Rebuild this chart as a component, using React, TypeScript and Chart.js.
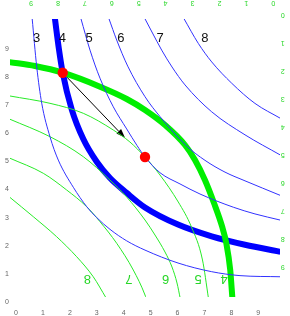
import React, { useEffect, useRef } from 'react';
import { Chart, registerables } from 'chart.js';

Chart.register(...registerables);

// Tick values of consumer A (bottom/left) and consumer B (top/right, reversed)
const aTicks = [0, 1, 2, 3, 4, 5, 6, 7, 8, 9];
const bTicks = [0, 1, 2, 3, 4, 5, 6, 7, 8, 9];

// Indifference-curve labels
const blueLevels = ['3', '4', '5', '6', '7', '8'];
const blueLabelX = [0.77, 1.72, 2.72, 3.9, 5.35, 7.02];
const blueLabelY = 9.4;
const greenLevels = ['8', '7', '6', '5', '4'];
const greenLabelX = [6.91, 5.36, 4.0, 2.79, 1.83];
const greenLabelY = 9.4;

// Consumer A (blue) indifference curves, in A's coordinates [x, y]
const blue3 = [[0.6, 10.1], [0.769, 8.38], [0.955, 7.08], [1.263, 5.88], [1.571, 5.05], [2.129, 4.08], [2.626, 3.39], [2.998, 3.0], [3.492, 2.58], [4.112, 2.17], [4.792, 1.84], [6.018, 1.38], [7.27, 1.07], [8.321, 0.93], [9.82, 0.89]];
const blue4 = [[1.445, 10.1], [1.597, 8.99], [1.735, 8.164], [2.069, 6.86], [2.5, 5.8], [2.998, 4.99], [3.492, 4.41], [4.112, 3.88], [4.792, 3.36], [6.018, 2.75], [7.27, 2.33], [8.507, 2.03], [9.82, 1.78]];
const blue5 = [[2.41, 10.1], [2.749, 8.97], [3.12, 7.97], [3.614, 6.95], [4.112, 6.16], [4.495, 5.57], [4.792, 5.16], [5.349, 4.6], [6.092, 4.2], [6.835, 3.84], [8.072, 3.37], [8.878, 3.13], [9.82, 2.91]];
const blue6 = [[3.45, 10.1], [3.74, 9.33], [4.15, 8.4], [4.792, 7.31], [5.349, 6.6], [6.341, 5.55], [7.021, 5.04], [7.764, 4.62], [8.507, 4.31], [9.82, 3.79]];
const blue7 = [[4.785, 10.1], [5.07, 9.58], [5.412, 8.97], [5.795, 8.37], [6.278, 7.73], [7.27, 6.77], [8.507, 5.95], [9.82, 5.23]];
const blue8 = [[6.235, 10.1], [6.772, 9.21], [7.27, 8.55], [8.013, 7.79], [8.878, 7.07], [9.82, 6.54]];

// Consumer B (green) indifference curves, in B's coordinates [x, y]
const green4 = [[9.8, 1.69], [8.852, 1.83], [7.823, 2.068], [6.437, 2.567], [5.446, 3.005], [4.766, 3.398], [4.023, 3.932], [3.28, 4.645], [2.909, 5.18], [2.54, 5.893], [2.2, 6.724], [1.9, 7.558], [1.745, 8.15], [1.6, 9.102], [1.52, 10.1]];
const green5 = [[9.8, 2.895], [8.295, 3.159], [7.058, 3.515], [5.944, 4.111], [5.327, 4.538], [4.766, 5.073], [4.209, 5.715], [3.53, 6.677], [3.04, 7.569], [2.63, 8.745], [2.41, 10.1]];
const green6 = [[9.8, 3.72], [8.295, 4.349], [7.058, 5.062], [6.069, 5.893], [5.446, 6.5], [4.766, 7.319], [4.395, 7.854], [4.023, 8.46], [3.763, 8.995], [3.577, 9.565], [3.46, 10.1]];
const green7 = [[9.8, 5.11], [8.544, 5.654], [7.675, 6.25], [6.932, 6.845], [6.438, 7.38], [5.817, 8.15], [5.201, 9.102], [4.766, 9.993], [4.73, 10.1]];
const green8 = [[9.8, 6.5], [8.915, 7.201], [8.049, 7.914], [7.306, 8.627], [6.69, 9.34], [6.21, 10.1]];

// Allocations (A coordinates) and the arrow between them
const redX = [1.735, 4.792];
const redY = [8.164, 5.16];
const arrowFrom = [1.735, 8.164];
const arrowTo = [4.049, 5.843];

const FONT = "'Liberation Sans', Arial, Helvetica, sans-serif";
const BLUE = '#0000ff';
const THIN_BLUE = 'rgb(50,50,255)';
const GREEN = '#00ee00';
const THIN_GREEN = 'rgb(40,235,40)';
const LABEL_GREEN = 'rgb(40,215,40)';

const pts = (arr: number[][]) => arr.map(([x, y]) => ({ x, y }));

function curve(arr: number[][], color: string, width: number, side: 'A' | 'B', order: number) {
  return {
    data: pts(arr),
    showLine: true,
    borderColor: color,
    backgroundColor: color,
    borderWidth: width,
    pointRadius: 0,
    pointHoverRadius: 0,
    cubicInterpolationMode: 'monotone',
    fill: false,
    clip: 0,
    order,
    xAxisID: side === 'A' ? 'x' : 'x2',
    yAxisID: side === 'A' ? 'y' : 'y2',
  };
}

const overlay = {
  id: 'edgeworthOverlay',
  beforeDatasetsDraw(chart: any) {
    const { ctx, scales } = chart;
    const x0 = scales.x.getPixelForValue(arrowFrom[0]);
    const y0 = scales.y.getPixelForValue(arrowFrom[1]);
    const x1 = scales.x.getPixelForValue(arrowTo[0]);
    const y1 = scales.y.getPixelForValue(arrowTo[1]);
    const ang = Math.atan2(y1 - y0, x1 - x0);
    const head = 9;
    const half = 3.2;
    ctx.save();
    ctx.strokeStyle = '#000';
    ctx.fillStyle = '#000';
    ctx.lineWidth = 1;
    ctx.beginPath();
    ctx.moveTo(x0, y0);
    ctx.lineTo(x1 - head * Math.cos(ang), y1 - head * Math.sin(ang));
    ctx.stroke();
    ctx.beginPath();
    ctx.moveTo(x1, y1);
    ctx.lineTo(x1 - head * Math.cos(ang) + half * Math.sin(ang), y1 - head * Math.sin(ang) - half * Math.cos(ang));
    ctx.lineTo(x1 - head * Math.cos(ang) - half * Math.sin(ang), y1 - head * Math.sin(ang) + half * Math.cos(ang));
    ctx.closePath();
    ctx.fill();
    ctx.restore();
  },
  afterDatasetsDraw(chart: any) {
    const { ctx, scales, chartArea } = chart;
    ctx.save();
    ctx.textAlign = 'center';
    ctx.textBaseline = 'middle';
    // curve labels of A
    ctx.font = `13px ${FONT}`;
    ctx.fillStyle = '#111';
    blueLevels.forEach((t, i) => {
      ctx.fillText(t, scales.x.getPixelForValue(blueLabelX[i]), scales.y.getPixelForValue(blueLabelY));
    });
    // curve labels of B (upside down)
    ctx.fillStyle = LABEL_GREEN;
    greenLevels.forEach((t, i) => {
      const px = scales.x2.getPixelForValue(greenLabelX[i]);
      const py = scales.y2.getPixelForValue(greenLabelY);
      ctx.save();
      ctx.translate(px, py);
      ctx.rotate(Math.PI);
      ctx.fillText(t, 0, 0);
      ctx.restore();
    });
    // B axes tick labels (upside down)
    ctx.font = `7px ${FONT}`;
    bTicks.forEach((v) => {
      const px = scales.x2.getPixelForValue(v);
      ctx.save();
      ctx.translate(px, chartArea.top - 15.7);
      ctx.rotate(Math.PI);
      ctx.fillText(String(v), 0, 0);
      ctx.restore();
      const py = scales.y2.getPixelForValue(v);
      ctx.save();
      ctx.translate(chartArea.right + 2.8, py);
      ctx.rotate(Math.PI);
      ctx.fillText(String(v), 0, 0);
      ctx.restore();
    });
    ctx.restore();
  },
};

export default function App() {
  const ref = useRef<HTMLCanvasElement | null>(null);

  useEffect(() => {
    document.body.style.margin = '0';
    const canvas = ref.current;
    if (!canvas) return;
    const chart = new Chart(canvas, {
      type: 'scatter',
      data: {
        datasets: [
          {
            data: redX.map((x, i) => ({ x, y: redY[i] })),
            showLine: false,
            pointRadius: 5.2,
            pointHoverRadius: 5.2,
            pointBackgroundColor: '#ff0000',
            pointBorderWidth: 0,
            pointBorderColor: '#ff0000',
            clip: false,
            order: 0,
            xAxisID: 'x',
            yAxisID: 'y',
          } as any,
          curve(blue3, THIN_BLUE, 1, 'A', 1),
          curve(blue5, THIN_BLUE, 1, 'A', 1),
          curve(blue6, THIN_BLUE, 1, 'A', 1),
          curve(blue7, THIN_BLUE, 1, 'A', 1),
          curve(blue8, THIN_BLUE, 1, 'A', 1),
          curve(green5, THIN_GREEN, 1, 'B', 2),
          curve(green6, THIN_GREEN, 1, 'B', 2),
          curve(green7, THIN_GREEN, 1, 'B', 2),
          curve(green8, THIN_GREEN, 1, 'B', 2),
          curve(green4, GREEN, 6, 'B', 3),
          curve(blue4, BLUE, 6, 'A', 4),
        ] as any,
      },
      options: {
        animation: false,
        responsive: false,
        maintainAspectRatio: false,
        devicePixelRatio: 1,
        events: [],
        layout: { padding: { top: 19, right: 10, left: 0, bottom: 0 } },
        plugins: { legend: { display: false }, tooltip: { enabled: false } },
        scales: {
          x: {
            type: 'linear',
            position: 'bottom',
            min: -0.223,
            max: 9.807,
            afterBuildTicks: (s: any) => { s.ticks = aTicks.map((v) => ({ value: v })); },
            afterFit: (s: any) => { s.height = 19; },
            ticks: { autoSkip: false, maxRotation: 0, minRotation: 0, padding: 12, color: '#666', font: { size: 7, family: FONT } },
            grid: { display: false, drawTicks: false },
            border: { display: false },
          },
          y: {
            type: 'linear',
            position: 'left',
            min: 0.168,
            max: 10.08,
            afterBuildTicks: (s: any) => { s.ticks = aTicks.map((v) => ({ value: v })); },
            afterFit: (s: any) => { s.width = 10; },
            ticks: { autoSkip: false, padding: 1, color: '#666', font: { size: 7, family: FONT } },
            grid: { display: false, drawTicks: false },
            border: { display: false },
          },
          x2: {
            type: 'linear',
            position: 'top',
            display: false,
            reverse: true,
            min: -0.249,
            max: 9.781,
          },
          y2: {
            type: 'linear',
            position: 'right',
            display: false,
            reverse: true,
            min: 0.153,
            max: 10.064,
          },
        },
      } as any,
      plugins: [overlay],
    });
    return () => chart.destroy();
  }, []);

  return (
    <div style={{ position: 'fixed', left: 0, top: 0, width: 290, height: 316 }}>
      <canvas ref={ref} width={290} height={316} style={{ display: 'block', width: 290, height: 316 }} />
    </div>
  );
}
